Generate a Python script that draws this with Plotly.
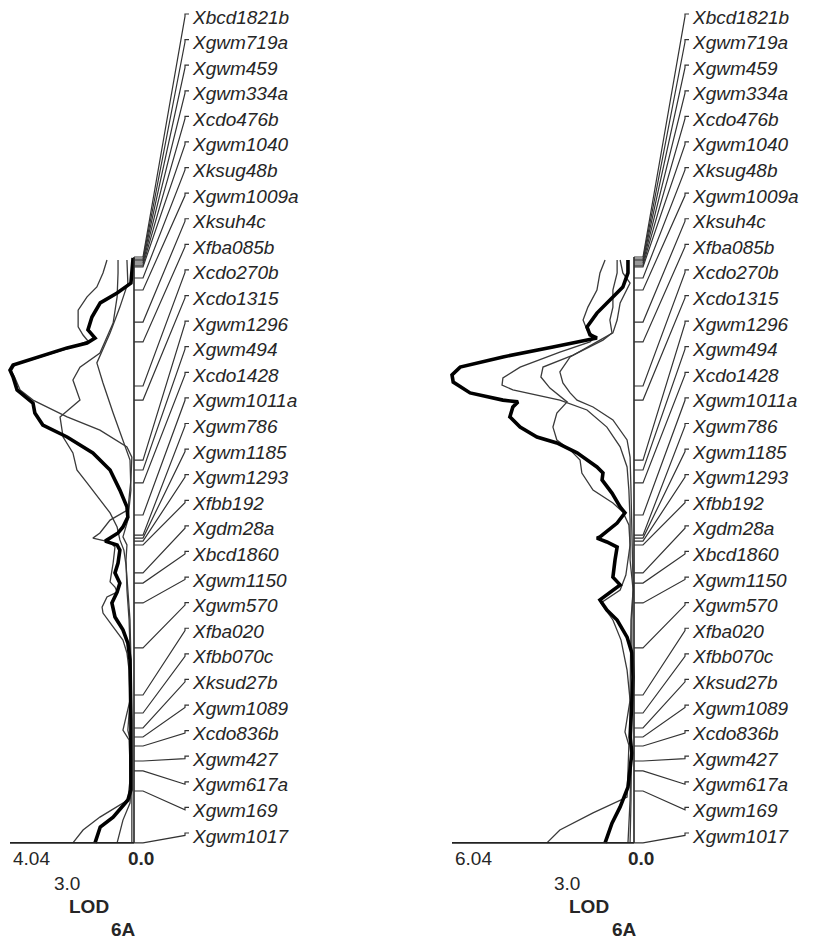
import plotly.graph_objects as go
import numpy as np

# ---------------- data ----------------
markers = ["Xbcd1821b", "Xgwm719a", "Xgwm459", "Xgwm334a", "Xcdo476b", "Xgwm1040",
           "Xksug48b", "Xgwm1009a", "Xksuh4c", "Xfba085b", "Xcdo270b", "Xcdo1315",
           "Xgwm1296", "Xgwm494", "Xcdo1428", "Xgwm1011a", "Xgwm786", "Xgwm1185",
           "Xgwm1293", "Xfbb192", "Xgdm28a", "Xbcd1860", "Xgwm1150", "Xgwm570",
           "Xfba020", "Xfbb070c", "Xksud27b", "Xgwm1089", "Xcdo836b", "Xgwm427",
           "Xgwm617a", "Xgwm169", "Xgwm1017"]
marker_cM = [0.0, 0.7, 1.3, 2.0, 2.7, 3.3, 7.0, 11.0, 21.7, 28.3, 43.0, 47.7,
             67.7, 71.0, 75.3, 86.0, 92.7, 93.7, 94.7, 96.0, 105.3, 108.7, 115.3, 130.3,
             146.0, 152.0, 157.0, 160.0, 163.0, 168.0, 171.3, 178.0, 195.3]

# Left panel (max LOD 4.04)
L_thick_cM = [0.3, 4.3, 8.7, 12.0, 15.3, 20.0, 24.3, 27.0, 28.7, 30.3, 33.3, 36.0, 37.7, 40.0,
              44.3, 47.7, 48.7, 52.0, 56.0, 60.0, 65.3, 71.0, 77.7, 83.3, 86.7, 90.0, 92.0,
              93.7, 94.7, 96.0, 97.7, 102.0, 105.3, 108.7, 111.7, 115.3, 120.0, 124.3, 128.7,
              134.3, 144.3, 154.3, 167.7, 177.7, 181.0, 186.7, 190.0, 195.3]
L_thick_lod = [0.03, 0.07, 0.10, 0.55, 1.10, 1.37, 1.50, 1.27, 1.53, 2.18, 3.06, 3.94, 4.04, 3.94,
               3.81, 3.39, 3.29, 3.23, 2.97, 2.18, 1.34, 0.78, 0.46, 0.23, 0.20, 0.36, 0.52,
               0.78, 0.94, 0.55, 0.46, 0.52, 0.62, 0.46, 0.55, 0.72, 0.62, 0.36, 0.20,
               0.13, 0.11, 0.10, 0.10, 0.10, 0.20, 0.68, 1.10, 1.27]
L_thinA_cM = [1.0, 5.3, 10.0, 13.3, 17.7, 23.3, 26.0, 28.0, 30.3, 33.3, 36.0, 38.0, 40.3, 44.3,
              47.7, 53.3, 57.7, 63.3, 66.7, 74.3, 84.3, 87.7, 92.0, 93.7, 95.0, 96.7, 102.0,
              108.3, 110.0, 111.7, 113.3, 116.7, 118.7, 123.3, 127.7, 132.0, 137.7, 147.7,
              157.7, 161.0, 174.3, 181.0, 186.7, 191.0, 195.3]
L_thinA_lod = [0.88, 1.01, 1.21, 1.53, 1.82, 1.82, 1.66, 1.50, 2.09, 3.00, 3.88, 4.00, 3.88, 3.71,
               3.29, 2.18, 1.11, 0.23, 0.07, 0.10, 0.20, 0.78, 1.11, 1.34, 0.78, 0.62, 0.68,
               0.78, 0.62, 0.55, 0.88, 1.04, 1.01, 0.68, 0.36, 0.23, 0.16, 0.13,
               0.20, 0.13, 0.13, 0.20, 1.11, 1.66, 1.99]
L_thinB_cM = [1.0, 5.3, 13.3, 22.0, 32.0, 36.7, 41.0, 47.7, 53.3, 60.0, 65.3, 71.0, 75.3, 81.0,
              85.3, 90.0, 94.3, 97.7, 102.7, 111.0, 121.0, 134.3, 147.7, 157.7, 161.0, 177.7,
              182.0, 187.7, 195.3]
L_thinB_lod = [0.52, 0.52, 0.55, 0.68, 1.11, 1.76, 1.99, 1.76, 2.41, 2.31, 1.99, 1.86, 1.53, 1.11,
               0.78, 0.55, 0.46, 0.33, 0.26, 0.20, 0.13, 0.10, 0.13, 0.36, 0.16, 0.10,
               0.13, 0.36, 0.55]
L_thinC_cM = [1.0, 8.7, 16.7, 25.3, 35.3, 42.0, 52.0, 61.0, 67.7, 77.7, 87.7, 93.3, 96.0, 101.0,
              111.0, 121.0, 141.0, 167.7, 181.0, 195.3]
L_thinC_lod = [0.23, 0.20, 0.46, 0.78, 1.21, 1.01, 0.68, 0.36, 0.13, 0.10, 0.20, 0.36, 0.23, 0.26,
               0.23, 0.16, 0.10, 0.07, 0.07, 0.07]

# Right panel (max LOD 6.04)
R_thick_cM = [1.0, 5.3, 10.0, 14.3, 18.7, 23.3, 26.0, 27.0, 27.7, 30.0, 33.3, 36.7, 39.3, 41.7,
              45.3, 47.7, 48.3, 50.0, 53.3, 56.7, 60.0, 62.0, 65.3, 70.0, 72.0, 74.3, 78.7,
              83.3, 85.3, 88.7, 93.3, 93.7, 95.0, 96.7, 101.0, 106.7, 109.3, 111.7, 114.3,
              117.7, 121.0, 126.7, 132.0, 140.0, 148.7, 160.0, 165.3, 170.0, 176.7, 183.3,
              188.7, 195.3]
R_thick_lod = [0.20, 0.20, 0.37, 0.80, 1.23, 1.56, 1.46, 1.23, 1.56, 2.69, 4.35, 5.77, 6.04, 6.00,
               5.44, 4.35, 3.85, 4.02, 4.12, 3.78, 3.22, 2.56, 1.89, 1.23, 1.03, 1.06, 0.73,
               0.46, 0.30, 0.56, 1.13, 1.23, 0.90, 0.56, 0.63, 0.70, 0.46, 0.80, 1.13,
               0.90, 0.56, 0.23, 0.07, 0.03, 0.07, 0.13, 0.07, 0.13, 0.20, 0.46,
               0.73, 0.96]
R_thin1_cM = [1.0, 5.3, 11.0, 16.7, 21.0, 24.3, 26.7, 28.3, 31.7, 36.7, 40.3, 42.7, 44.3, 46.0,
              47.7, 51.0, 56.7, 63.3, 70.0, 77.7, 87.7, 101.0, 111.0, 121.0, 147.7, 158.3,
              162.7, 180.0, 185.3, 191.0, 195.3]
R_thin1_lod = [0.96, 1.13, 1.23, 1.53, 1.69, 1.56, 1.29, 1.46, 2.46, 3.78, 4.35, 4.38, 4.02, 3.22,
               2.46, 1.56, 0.90, 0.46, 0.23, 0.17, 0.13, 0.13, 0.03, 0.10, 0.13, 0.30,
               0.17, 0.23, 1.36, 2.46, 2.89]
R_thin2_cM = [1.0, 5.3, 11.0, 16.7, 21.0, 25.3, 27.7, 32.7, 36.7, 40.0, 43.7, 48.3, 52.0, 56.7,
              61.0, 64.3, 67.7, 72.0, 77.7, 82.0, 85.0, 89.3, 96.0, 106.0, 111.0, 115.3, 121.0,
              127.7, 137.7, 147.7, 167.7, 181.0, 195.3]
R_thin2_lod = [0.56, 0.56, 0.70, 0.70, 0.80, 0.73, 1.03, 2.02, 3.02, 3.09, 2.79, 2.22, 2.56, 2.69,
               2.56, 2.12, 1.79, 1.73, 1.36, 0.70, 0.37, 0.17, 0.13, 0.27, 0.46, 1.10, 0.70,
               0.43, 0.23, 0.13, 0.10, 0.13, 0.20]
R_thin3_cM = [1.0, 5.3, 8.7, 15.3, 21.0, 25.3, 27.7, 33.3, 38.3, 42.0, 45.3, 47.7, 50.0, 54.3,
              61.0, 66.7, 77.7, 94.3, 110.0, 121.0, 147.7, 181.0, 195.3]
R_thin3_lod = [0.46, 0.37, 0.13, 0.46, 0.56, 0.70, 1.13, 2.12, 2.46, 2.36, 2.12, 1.89, 1.36, 0.70,
               0.23, 0.13, 0.10, 0.07, 0.03, 0.07, 0.07, 0.10, 0.13]

panels = [
    dict(max_lod=4.04, max_label="4.04", zero_px=134, left_px=10, thick=(L_thick_cM, L_thick_lod),
         thin=[(L_thinA_cM, L_thinA_lod), (L_thinB_cM, L_thinB_lod), (L_thinC_cM, L_thinC_lod)]),
    dict(max_lod=6.04, max_label="6.04", zero_px=634, left_px=452, thick=(R_thick_cM, R_thick_lod),
         thin=[(R_thin1_cM, R_thin1_lod), (R_thin2_cM, R_thin2_lod), (R_thin3_cM, R_thin3_lod)]),
]
mid_tick = "3.0"
axis_title = "LOD"
chrom_name = "6A"

# ---------------- layout helpers ----------------
PAGE_W, PAGE_H = 813, 942
OFF = 8                      # default body margin of the html page
W, H = PAGE_W - OFF, PAGE_H - OFF
Y0_PX, PX_PER_CM = 257.0, 3.0
chrom_len = marker_cM[-1]
label_top_px, label_bot_px = 17.0, 836.0

def px_to_cm(py):
    return (py - Y0_PX) / PX_PER_CM

fig = go.Figure()
FONT = "Liberation Sans, Arial, sans-serif"
INK = "#262626"

for i, p in enumerate(panels):
    xa = "x" if i == 0 else "x2"
    zero = p["zero_px"]
    scale = (zero - p["left_px"]) / p["max_lod"]   # px per LOD
    off = lambda dpx, s=scale: -dpx / s             # px offset right of chromosome -> LOD units

    for cm, lod in p["thin"]:
        fig.add_trace(go.Scatter(x=lod, y=cm, xaxis=xa, yaxis="y", mode="lines",
                                 line=dict(color="#3a3a3a", width=1.3), hoverinfo="skip",
                                 showlegend=False))
    cm, lod = p["thick"]
    fig.add_trace(go.Scatter(x=lod, y=cm, xaxis=xa, yaxis="y", mode="lines",
                             line=dict(color="#000000", width=3.6), hoverinfo="skip",
                             showlegend=False))

    # chromosome + baseline
    fig.add_trace(go.Scatter(x=[0, 0, None, p["max_lod"], 0], y=[0, chrom_len, None, chrom_len, chrom_len],
                             xaxis=xa, yaxis="y", mode="lines",
                             line=dict(color="#222222", width=1.6), hoverinfo="skip", showlegend=False))

    # connectors
    label_px = np.linspace(label_top_px, label_bot_px, len(markers))
    cx, cy = [], []
    for m_cm, lp in zip(marker_cM, label_px):
        hook_cm = px_to_cm(lp - 3)
        cx += [0, off(9), off(51), off(51), off(55), None]
        cy += [m_cm, m_cm, hook_cm + 0.8, hook_cm, hook_cm, None]
    fig.add_trace(go.Scatter(x=cx, y=cy, xaxis=xa, yaxis="y", mode="lines",
                             line=dict(color="#333333", width=1.2), hoverinfo="skip", showlegend=False))

    for name, lp in zip(markers, label_px):
        fig.add_annotation(x=off(56), y=px_to_cm(lp), xref=xa, yref="y", text=f"<i>{name}</i>",
                           showarrow=False, xanchor="left", yanchor="middle",
                           font=dict(family=FONT, size=19, color=INK))

    def pa(text, px, py, anchor="center", bold=False):
        fig.add_annotation(x=(px - OFF) / W, y=1 - (py - OFF) / H, xref="paper", yref="paper",
                           text=f"<b>{text}</b>" if bold else text, showarrow=False,
                           xanchor=anchor, yanchor="middle",
                           font=dict(family=FONT, size=19, color=INK))
    pa(p["max_label"], p["left_px"] + 1, 858, anchor="left")
    pa("0.0", zero + 7, 858, bold=True)
    pa(mid_tick, zero - 67, 883)
    pa(axis_title, zero - 45, 906, bold=True)
    pa(chrom_name, zero - 10, 929, bold=True)

def xrange_for(p):
    s = (p["zero_px"] - p["left_px"]) / p["max_lod"]
    z = p["zero_px"] - OFF
    return [z / s, (z - W) / s]

fig.update_layout(
    width=W, height=H, margin=dict(l=0, r=0, t=0, b=0),
    paper_bgcolor="white", plot_bgcolor="white",
    xaxis=dict(range=xrange_for(panels[0]), visible=False, domain=[0, 1]),
    xaxis2=dict(range=xrange_for(panels[1]), visible=False, overlaying="x", domain=[0, 1]),
    yaxis=dict(range=[px_to_cm(OFF + H), px_to_cm(OFF)], visible=False, domain=[0, 1]),
    showlegend=False,
)

fig.write_html("out.html")
